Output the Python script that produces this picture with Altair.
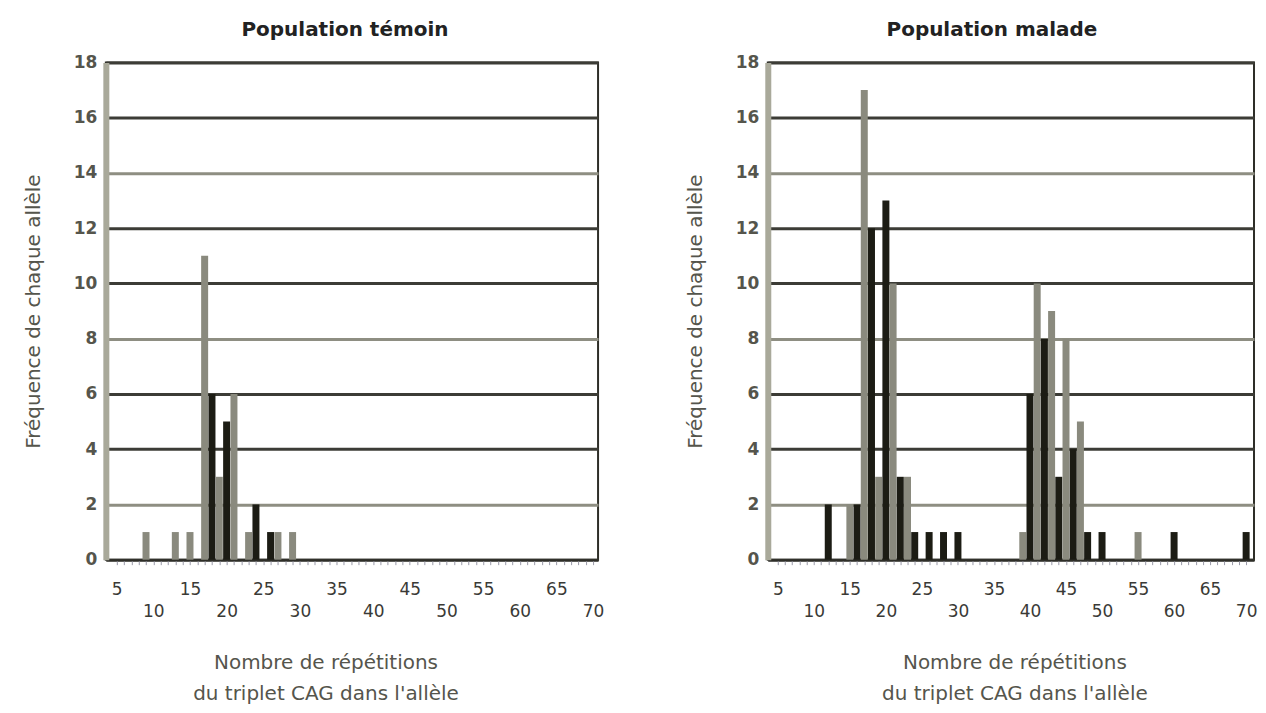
import altair as alt
import pandas as pd

# ---- data ----
temoin_repeats = [9, 13, 15, 17, 18, 19, 20, 21, 23, 24, 26, 27, 29]
temoin_freq = [1, 1, 1, 11, 6, 3, 5, 6, 1, 2, 1, 1, 1]

malade_repeats = [12, 15, 16, 17, 18, 19, 20, 21, 22, 23, 24, 26, 28, 30,
                  39, 40, 41, 42, 43, 44, 45, 46, 47, 48, 50, 55, 60, 70]
malade_freq = [2, 2, 2, 17, 12, 3, 13, 10, 3, 3, 1, 1, 1, 1,
               1, 6, 10, 8, 9, 3, 8, 4, 5, 1, 1, 1, 1, 1]

panel_titles = ["Population témoin", "Population malade"]
y_title = "Fréquence de chaque allèle"
x_title = ["Nombre de répétitions", "du triplet CAG dans l'allèle"]
y_ticks = list(range(0, 19, 2))
x_ticks = list(range(5, 71))

FONT = "DejaVu Sans"
TXT = "#3a3a36"


def panel(xs, ys, title, dom, width, x_title_pos, title_dx):
    df = pd.DataFrame({"rep": xs, "freq": ys})
    return (
        alt.Chart(df)
        .transform_calculate(shade="datum.rep % 2")
        .mark_bar(size=7)
        .encode(
            x=alt.X(
                "rep:Q",
                scale=alt.Scale(domain=dom, nice=False, zero=False),
                axis=alt.Axis(
                    values=x_ticks,
                    labelExpr="datum.value % 10 == 0 ? ['', datum.label] : (datum.value % 5 == 0 ? datum.label : '')",
                    labelLineHeight=22,
                    labelBaseline="top",
                    labelPadding=17,
                    labelOverlap=False,
                    labelFontSize=17,
                    labelColor=TXT,
                    labelFont=FONT,
                    grid=False,
                    tickSize=5,
                    tickColor="#9a9aa8",
                    tickWidth=1,
                    domainColor="#2e2e28",
                    domainWidth=2,
                    title=x_title,
                    titleFontSize=20,
                    titleFontWeight="normal",
                    titleColor="#55554c",
                    titleFont=FONT,
                    titlePadding=33,
                    titleLineHeight=31,
                    titleX=x_title_pos,
                ),
            ),
            y=alt.Y(
                "freq:Q",
                scale=alt.Scale(domain=[0, 18], nice=False),
                axis=alt.Axis(
                    values=y_ticks,
                    labelFontSize=17,
                    labelFontWeight="bold",
                    labelColor="#55554c",
                    labelFont=FONT,
                    labelPadding=9,
                    ticks=False,
                    grid=True,
                    gridColor={"condition": {"test": "datum.value % 6 == 2", "value": "#8e8e82"}, "value": "#3c3c36"},
                    gridWidth=3,
                    domainColor="#a9a99a",
                    domainWidth=6,
                    title=y_title,
                    titleFontSize=20,
                    titleFontWeight="normal",
                    titleColor="#55554c",
                    titleFont=FONT,
                    titlePadding=30,
                ),
            ),
            color=alt.Color(
                "shade:N",
                scale=alt.Scale(domain=[0, 1], range=["#1c1c14", "#8a8a7e"]),
                legend=None,
            ),
        )
        .properties(
            width=width,
            height=498,
            title=alt.TitleParams(
                title, fontSize=20, fontWeight="bold", color="#222",
                font=FONT, offset=14, anchor="middle", dx=title_dx,
            ),
        )
    )


left = panel(temoin_repeats, temoin_freq, panel_titles[0], [4.2, 70], 493, 220, -7)
right = panel(malade_repeats, malade_freq, panel_titles[1], [4.3, 70.4], 487, 247, -19)

chart = (
    alt.hconcat(left, right, spacing=79)
    .properties(padding={"left": 14, "top": 10, "right": 0, "bottom": 0})
    .configure_view(stroke="#2e2e28", strokeWidth=2)
)

chart.save("out.html", embed_options={"renderer": "svg", "actions": False})
